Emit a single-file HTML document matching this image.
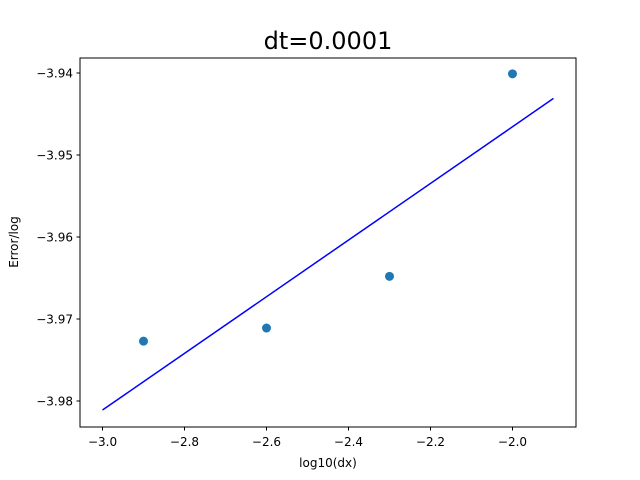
<!DOCTYPE html>
<html><head><meta charset="utf-8"><style>body{margin:0;background:#fff}svg{display:block;font-family:"DejaVu Sans","Liberation Sans",sans-serif}</style></head>
<body>
<svg id="chart" width="640" height="480">
<text x="328" y="49" font-size="24" text-anchor="middle">dt=0.0001</text>
<rect x="80" y="58" width="496" height="369" fill="none" stroke="#000" stroke-width="1"/>
<g id="xt"></g><g id="yt"></g><g id="marks"></g>
<text x="328" y="467" font-size="12" text-anchor="middle">log10(dx)</text>
<text x="18" y="242" font-size="12" text-anchor="middle" transform="rotate(-90 18 242)">Error/log</text>
</svg>
<script>
const pointX=[-2.9,-2.6,-2.3,-2.0];
const pointY=[-3.9727,-3.9711,-3.9648,-3.9401];
const lineX=[-3.0,-1.9];
const lineY=[-3.9811,-3.9431];
const xTicks=[-3.0,-2.8,-2.6,-2.4,-2.2,-2.0];
const yTicks=[-3.94,-3.95,-3.96,-3.97,-3.98];
const NS="http://www.w3.org/2000/svg";
const xmin=-3.0549,xmax=-1.8451,ymin=-3.98317,ymax=-3.93817;
const sx=v=>80+(v-xmin)/(xmax-xmin)*496;
const sy=v=>427-(v-ymin)/(ymax-ymin)*369;
function mk(t,a,p){const e=document.createElementNS(NS,t);for(const k in a)e.setAttribute(k,a[k]);p.appendChild(e);return e;}
const xt=document.getElementById('xt'),yt=document.getElementById('yt'),m=document.getElementById('marks');
xTicks.forEach(v=>{const x=sx(v);
const l=mk('line',{x1:x,x2:x,y1:427,y2:430.5,stroke:'#000'},xt);


const t=mk('text',{x:x,y:446,'font-size':12,'text-anchor':'middle'},xt);t.textContent="\u2212"+Math.abs(v).toFixed(1);

});
yTicks.forEach(v=>{const y=sy(v);
const l=mk('line',{x1:76.5,x2:80,y1:y,y2:y,stroke:'#000'},yt);


const t=mk('text',{x:73,y:y+4.5,'font-size':12,'text-anchor':'end'},yt);t.textContent="\u2212"+Math.abs(v).toFixed(2);

});
const ln=mk('line',{x1:sx(lineX[0]),y1:sy(lineY[0]),x2:sx(lineX[1]),y2:sy(lineY[1]),stroke:'#0000ff','stroke-width':1.5},m);


pointX.forEach((x,i)=>{const c=mk('circle',{cx:sx(x),cy:sy(pointY[i]),r:4.5,fill:'#1f77b4'},m);

});
</script>
</body></html>
